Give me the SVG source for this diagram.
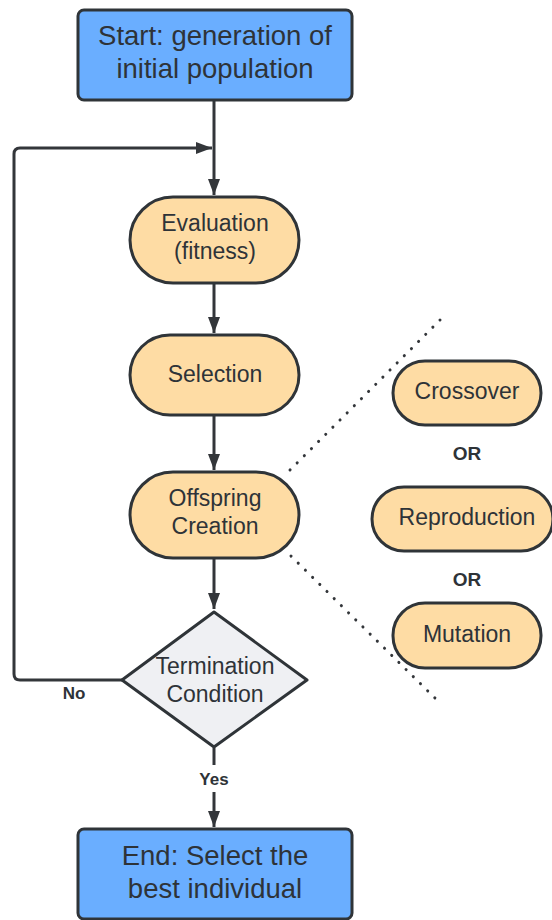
<svg xmlns="http://www.w3.org/2000/svg" width="552" height="920" viewBox="0 0 552 920">
<defs>
<style>
.t{font-family:"Liberation Sans",Arial,sans-serif;fill:#2e3338;text-anchor:middle}
.big{font-size:27.5px}
.mid{font-size:23px}
.lbl{font-size:17px;font-weight:bold}
.or{font-size:19px;font-weight:bold}
.blue{fill:#6aaeff;stroke:#2f3438;stroke-width:3}
.pill{fill:#fedca4;stroke:#2f3438;stroke-width:3}
.dia{fill:#eff0f3;stroke:#2f3438;stroke-width:3}
.ln{fill:none;stroke:#33363a;stroke-width:3}
.dot{fill:none;stroke:#33363a;stroke-width:3;stroke-linecap:round;stroke-dasharray:0.1 10}
</style>
<marker id="ah" viewBox="0 0 16 12" refX="16" refY="6" markerWidth="16" markerHeight="12" markerUnits="userSpaceOnUse" orient="auto">
<path d="M0,0 L16,6 L0,12 Z" fill="#33363a"/>
</marker>
</defs>
<rect width="552" height="920" fill="#ffffff"/>
<g id="connectors">
<line class="ln" x1="214" y1="101" x2="214" y2="195" marker-end="url(#ah)"/>
<path class="ln" d="M122,680 L20,680 Q14,680 14,674 L14,154 Q14,148 20,148 L212,148" marker-end="url(#ah)"/>
<line class="ln" x1="214" y1="284" x2="214" y2="333" marker-end="url(#ah)"/>
<line class="ln" x1="214" y1="416" x2="214" y2="470" marker-end="url(#ah)"/>
<line class="ln" x1="214" y1="559" x2="214" y2="609" marker-end="url(#ah)"/>
<line class="ln" x1="214" y1="748" x2="214" y2="765"/>
<line class="ln" x1="214" y1="792" x2="214" y2="827" marker-end="url(#ah)"/>
<text class="t lbl" x="214" y="785">Yes</text>
<text class="t lbl" x="74" y="699">No</text>
<path class="dot" d="M290,470 L440,320"/>
<path class="dot" d="M291,556 L437,700"/>
</g>
<g id="start">
<rect class="blue" x="78" y="10" width="274" height="90" rx="6"/>
<text class="t big" x="215" y="45">Start: generation of</text>
<text class="t big" x="215" y="78">initial population</text>
</g>
<g id="evaluation">
<rect class="pill" x="130" y="197" width="169" height="86" rx="43"/>
<text class="t mid" x="215" y="231">Evaluation</text>
<text class="t mid" x="215" y="259">(fitness)</text>
</g>
<g id="selection">
<rect class="pill" x="130" y="335" width="169" height="80" rx="40"/>
<text class="t mid" x="215" y="382">Selection</text>
</g>
<g id="offspring">
<rect class="pill" x="130" y="472" width="169" height="86" rx="43"/>
<text class="t mid" x="215" y="506">Offspring</text>
<text class="t mid" x="215" y="534">Creation</text>
</g>
<g id="termination">
<polygon class="dia" points="214,612 307,680 214,747 122,680" stroke-linejoin="round"/>
<text class="t mid" x="215" y="674">Termination</text>
<text class="t mid" x="215" y="702">Condition</text>
</g>
<g id="end">
<rect class="blue" x="78" y="829" width="274" height="90" rx="6"/>
<text class="t big" x="215" y="865">End: Select the</text>
<text class="t big" x="215" y="898">best individual</text>
</g>
<g id="crossover">
<rect class="pill" x="393" y="361" width="148" height="64" rx="32"/>
<text class="t mid" x="467" y="399">Crossover</text>
</g>
<g id="or1"><text class="t or" x="467" y="460">OR</text></g>
<g id="reproduction">
<rect class="pill" x="372" y="487" width="181" height="64" rx="32"/>
<text class="t mid" x="467" y="525">Reproduction</text>
</g>
<g id="or2"><text class="t or" x="467" y="586">OR</text></g>
<g id="mutation">
<rect class="pill" x="393" y="603" width="148" height="65" rx="32"/>
<text class="t mid" x="467" y="642">Mutation</text>
</g>
</svg>
